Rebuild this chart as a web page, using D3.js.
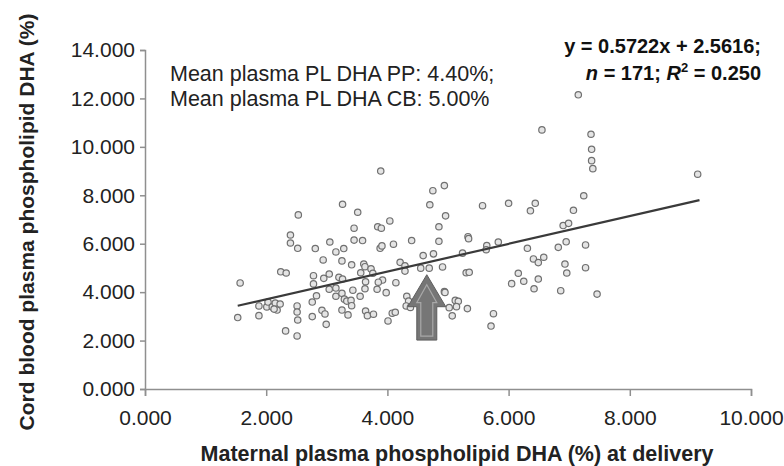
<!DOCTYPE html>
<html>
<head>
<meta charset="utf-8">
<script src="https://cdn.jsdelivr.net/npm/d3@7"></script>
<style>
  body { margin: 0; background: #fff; }
  text { font-family: "Liberation Sans", Arial, sans-serif; }
</style>
</head>
<body>
<script>
// maternal DHA (%) at delivery
var maternal = [
	2.53, 2.40, 2.40, 2.52, 2.24, 2.33, 1.57, 1.88, 2.01, 2.03, 2.10, 2.15, 2.18, 2.23, 2.13, 2.51, 2.51, 2.52, 1.53, 1.88, 2.32, 2.51,
	3.89, 4.94, 4.75, 3.26, 4.70, 3.51, 4.96, 4.04, 3.45, 3.84, 3.90, 4.85, 3.05, 3.45, 3.59, 4.40, 4.85, 3.88, 3.91, 4.10, 2.81, 3.15,
	3.28, 2.94, 3.25, 4.59, 4.76, 3.41, 3.61, 3.63, 3.73, 4.21, 4.29, 4.29, 4.55, 4.69, 4.91, 3.56, 3.76, 3.04, 2.78, 2.95, 3.20, 3.26,
	2.78, 3.64, 3.92, 3.85, 4.14, 3.04, 3.15, 3.43, 3.63, 3.83, 2.83, 3.15, 3.25, 3.98, 3.55, 3.29, 3.33, 3.40, 2.76, 4.32, 4.35, 4.31,
	4.38, 3.41, 2.92, 2.97, 3.25, 3.64, 3.67, 3.77, 3.35, 4.08, 4.13, 2.76, 2.99, 4.01, 4.94, 5.02,
	7.37, 7.39, 5.57, 6.00, 6.44, 6.36, 7.24, 7.07, 6.90, 6.99, 5.33, 5.34, 5.83, 5.64, 5.63, 5.24, 6.31, 6.82, 6.95, 7.27, 6.41, 6.49,
	6.58, 6.93, 7.27, 5.30, 5.35, 6.16, 6.96, 6.25, 6.05, 6.49, 6.42, 6.86, 7.46, 4.95, 5.12, 5.17, 5.14, 5.32, 5.07, 5.75, 5.71,
	7.36, 7.37, 9.12, 6.55, 7.15
];
// cord blood DHA (%)
var cord = [
	7.19, 6.36, 6.03, 5.81, 4.84, 4.79, 4.38, 3.43, 3.39, 3.59, 3.39, 3.55, 3.26, 3.51, 3.30, 3.43, 3.18, 2.85, 2.95, 3.03, 2.40, 2.19,
	9.00, 8.40, 8.19, 7.63, 7.61, 7.30, 7.15, 6.94, 6.64, 6.70, 6.64, 6.70, 6.07, 6.15, 6.13, 6.13, 6.10, 5.81, 5.91, 5.98, 5.80, 5.66,
	5.80, 5.33, 5.29, 5.51, 5.58, 5.13, 5.16, 5.05, 4.96, 5.23, 5.09, 4.87, 4.99, 4.99, 5.04, 4.80, 4.78, 4.75, 4.68, 4.57, 4.61, 4.54,
	4.34, 4.43, 4.50, 4.41, 4.39, 4.12, 4.17, 4.08, 4.14, 4.12, 3.85, 3.83, 3.95, 3.98, 3.83, 3.71, 3.63, 3.66, 3.59, 3.83, 3.63, 3.43,
	3.37, 3.44, 3.25, 3.10, 3.26, 3.22, 3.03, 3.09, 3.06, 3.13, 3.17, 2.99, 2.67, 2.81, 4.02, 3.36,
	9.43, 9.10, 7.57, 7.67, 7.67, 7.36, 7.98, 7.38, 6.75, 6.84, 6.29, 6.21, 6.07, 5.92, 5.75, 5.61, 5.81, 5.85, 6.08, 5.95, 5.37, 5.22,
	5.44, 5.16, 5.01, 4.80, 4.82, 4.78, 4.79, 4.45, 4.35, 4.54, 4.14, 4.06, 3.92, 3.99, 3.66, 3.62, 3.40, 3.32, 3.02, 3.11, 2.60,
	10.52, 9.90, 8.87, 10.70, 12.15
];

var slope = 0.5722, intercept = 2.5616;
var fitRange = [1.53, 9.15];
var xTicks = [0, 2, 4, 6, 8, 10];
var yTicks = [0, 2, 4, 6, 8, 10, 12, 14];
var meanNotes = ["Mean plasma PL DHA PP: 4.40%;", "Mean plasma PL DHA CB: 5.00%"];
// arrow: x position, tip and base (data units)
var arrowX = 4.65, arrowTip = 4.72, arrowBase = 2.02;

var w = 784, h = 466;

var svg = d3.select("body")
	.append("svg")
	.attr("width", w)
	.attr("height", h);

var x = d3.scaleLinear().domain([0, 10]).range([145, 751]);
var y = d3.scaleLinear().domain([0, 14]).range([389, 50]);

var axisColor = "#8f8f8f";

var xAxis = svg.append("g")
	.attr("transform", "translate(0,389)")
	.call(d3.axisBottom(x).tickValues(xTicks).tickFormat(d3.format(".3f")).tickSize(7).tickPadding(14));

var yAxis = svg.append("g")
	.attr("transform", "translate(145,0)")
	.call(d3.axisLeft(y).tickValues(yTicks).tickFormat(d3.format(".3f")).tickSize(5).tickPadding(5));

[xAxis, yAxis].forEach(function (g) {
	g.select(".domain").attr("stroke", axisColor).attr("stroke-width", 1.5);
	g.selectAll(".tick line").attr("stroke", axisColor).attr("stroke-width", 1.5);
	g.selectAll(".tick text")
		.attr("fill", "#222")
		.style("font-size", "21px")
		.style("font-family", "'Liberation Sans', Arial, sans-serif");
});

// points
svg.append("g")
	.selectAll("circle")
	.data(maternal)
	.enter()
	.append("circle")
	.attr("cx", function (d) { return x(d); })
	.attr("cy", function (d, i) { return y(cord[i]); })
	.attr("r", 3.2)
	.attr("fill", "#e4e4e4")
	.attr("stroke", "#707070")
	.attr("stroke-width", 1.2);

// regression line
svg.append("line")
	.attr("x1", x(fitRange[0]))
	.attr("y1", y(slope * fitRange[0] + intercept))
	.attr("x2", x(fitRange[1]))
	.attr("y2", y(slope * fitRange[1] + intercept))
	.attr("stroke", "#3a3a3a")
	.attr("stroke-width", 2.2);

// arrow
var ax = x(arrowX), tipY = y(arrowTip), baseY = y(arrowBase),
	headHalf = 19, shaftHalf = 10, headLen = 32;
var outer = [
	[ax, tipY], [ax + headHalf, tipY + headLen], [ax + shaftHalf, tipY + headLen],
	[ax + shaftHalf, baseY], [ax - shaftHalf, baseY], [ax - shaftHalf, tipY + headLen],
	[ax - headHalf, tipY + headLen]
];
var inner = [
	[ax, tipY + 10], [ax + headHalf - 9, tipY + headLen - 4], [ax + shaftHalf - 4, tipY + headLen - 4],
	[ax + shaftHalf - 4, baseY - 4], [ax - shaftHalf + 4, baseY - 4], [ax - shaftHalf + 4, tipY + headLen - 4],
	[ax - headHalf + 9, tipY + headLen - 4]
];
svg.append("polygon")
	.attr("points", outer.map(function (p) { return p.join(","); }).join(" "))
	.attr("fill", "#767676")
	.attr("stroke", "#5e5e5e")
	.attr("stroke-width", 1);
svg.append("polygon")
	.attr("points", inner.map(function (p) { return p.join(","); }).join(" "))
	.attr("fill", "none")
	.attr("stroke", "#a8a8a8")
	.attr("stroke-width", 1.2);

// notes top left
svg.selectAll(".note")
	.data(meanNotes)
	.enter()
	.append("text")
	.attr("class", "note")
	.attr("x", 170)
	.attr("y", function (d, i) { return 81 + i * 25; })
	.attr("fill", "#222")
	.style("font-size", "21.5px")
	.text(function (d) { return d; });

// equation top right
var eq = svg.append("g")
	.attr("font-weight", "bold")
	.attr("fill", "#111")
	.style("font-size", "20px");
eq.append("text")
	.attr("x", 761)
	.attr("y", 53)
	.attr("text-anchor", "end")
	.text("y = 0.5722x + 2.5616;");
var l2 = eq.append("text")
	.attr("x", 761)
	.attr("y", 80)
	.attr("text-anchor", "end");
l2.append("tspan").attr("font-style", "italic").text("n");
l2.append("tspan").text(" = 171; ");
l2.append("tspan").attr("font-style", "italic").text("R");
l2.append("tspan").attr("dy", -8).style("font-size", "13px").text("2");
l2.append("tspan").attr("dy", 8).text(" = 0.250");

// axis titles
svg.append("text")
	.attr("x", 457)
	.attr("y", 461)
	.attr("text-anchor", "middle")
	.attr("font-weight", "bold")
	.attr("fill", "#222")
	.style("font-size", "21.5px")
	.text("Maternal plasma phospholipid DHA (%) at delivery");

svg.append("text")
	.attr("transform", "translate(34,222) rotate(-90)")
	.attr("text-anchor", "middle")
	.attr("font-weight", "bold")
	.attr("fill", "#222")
	.style("font-size", "21px")
	.text("Cord blood plasma phospholipid DHA (%)");
</script>
</body>
</html>
